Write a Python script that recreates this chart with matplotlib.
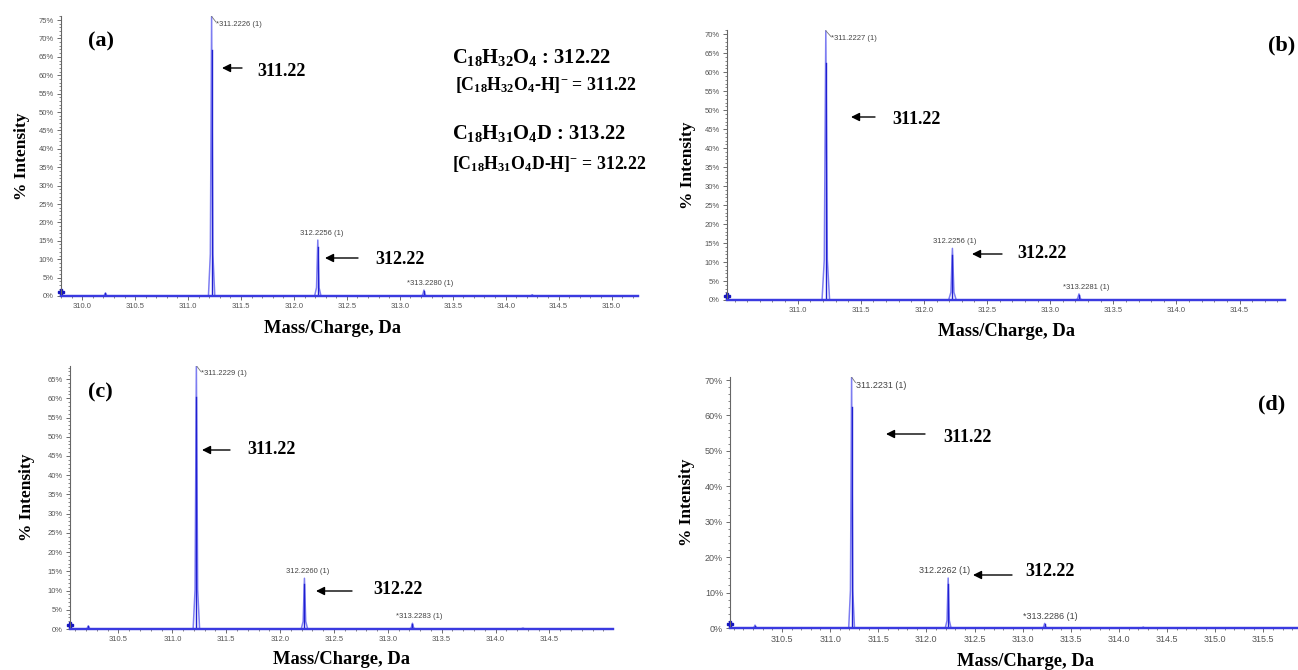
import matplotlib
matplotlib.use("Agg")
import matplotlib.pyplot as plt
from matplotlib.ticker import MultipleLocator, FixedLocator, FuncFormatter

plt.rcParams['mathtext.fontset'] = 'custom'
plt.rcParams['mathtext.rm'] = 'Liberation Serif:bold'
plt.rcParams['mathtext.bf'] = 'Liberation Serif:bold'
plt.rcParams['mathtext.it'] = 'Liberation Serif:bold'

# ---------------- data ----------------
panel_names = ['(a)', '(b)', '(c)', '(d)']

a_mz = [310.22, 311.2226, 312.2256, 313.2280, 314.25]
a_int = [0.8, 76.0, 15.2, 1.6, 0.3]
b_mz = [311.2227, 312.2256, 313.2281]
b_int = [70.9, 13.6, 1.6]
c_mz = [310.22, 311.2229, 312.2260, 313.2283, 314.25]
c_int = [0.8, 68.5, 13.2, 1.5, 0.2]
d_mz = [310.22, 311.2231, 312.2262, 313.2286, 314.25]
d_int = [0.8, 70.8, 14.1, 1.3, 0.2]

a_labels = ['*311.2226 (1)', '312.2256 (1)', '*313.2280 (1)']
b_labels = ['*311.2227 (1)', '312.2256 (1)', '*313.2281 (1)']
c_labels = ['*311.2229 (1)', '312.2260 (1)', '*313.2283 (1)']
d_labels = ['311.2231 (1)', '312.2262 (1)', '*313.2286 (1)']

a_xticks = [310.0, 310.5, 311.0, 311.5, 312.0, 312.5, 313.0, 313.5, 314.0, 314.5, 315.0]
b_xticks = [311.0, 311.5, 312.0, 312.5, 313.0, 313.5, 314.0, 314.5]
c_xticks = [310.5, 311.0, 311.5, 312.0, 312.5, 313.0, 313.5, 314.0, 314.5]
d_xticks = [310.5, 311.0, 311.5, 312.0, 312.5, 313.0, 313.5, 314.0, 314.5, 315.0, 315.5]

a_yticks = [0, 5, 10, 15, 20, 25, 30, 35, 40, 45, 50, 55, 60, 65, 70, 75]
b_yticks = [0, 5, 10, 15, 20, 25, 30, 35, 40, 45, 50, 55, 60, 65, 70]
c_yticks = [0, 5, 10, 15, 20, 25, 30, 35, 40, 45, 50, 55, 60, 65]
d_yticks = [0, 10, 20, 30, 40, 50, 60, 70]

ion_labels = ['311.22', '312.22']
# --------------------------------------

W, H = 1298, 670
fig = plt.figure(figsize=(W / 100, H / 100), dpi=100)


def fx(px):
    return px / W


def fy(py):
    return 1 - py / H


def make_axes(l, t, r, b):
    return fig.add_axes([fx(l), fy(b), (r - l) / W, (b - t) / H])


SERIF = 'Liberation Serif'
BLUE = '#3a3ae0'
TICKC = '#555555'

boxes = [(61, 16, 638, 296), (727, 30, 1285, 300), (70, 366, 613, 629), (730, 377, 1298, 628)]
xlims = [(309.8, 315.25), (310.44, 314.86), (310.05, 315.09), (309.96, 315.86)]
ylims = [76.1, 71.1, 68.4, 70.85]
yminor = [1, 1, 1, 2]
mzs = [a_mz, b_mz, c_mz, d_mz]
ints = [a_int, b_int, c_int, d_int]
labs = [a_labels, b_labels, c_labels, d_labels]
xts = [a_xticks, b_xticks, c_xticks, d_xticks]
yts = [a_yticks, b_yticks, c_yticks, d_yticks]
lab_fs = [5.5, 5.5, 5.5, 6.5]
tick_fs = [5.5, 5.5, 5.5, 6.5]
mid_off = [0.04, 0.02, 0.03, -0.04]
xlabel_x = [0.47, 0.5, 0.5, 0.52]
xlabel_y = [-0.086, -0.085, -0.084, -0.098]
ylabel_pad = [6, 6, 9, 7]

axes = []
for i in range(4):
    ax = make_axes(*boxes[i])
    axes.append(ax)
    ax.set_xlim(*xlims[i])
    ax.set_ylim(0, ylims[i])
    for s in ['top', 'right']:
        ax.spines[s].set_visible(False)
    ax.spines['left'].set_color('#666666')
    ax.spines['left'].set_linewidth(0.8)
    ax.spines['bottom'].set_color(BLUE)
    ax.spines['bottom'].set_linewidth(1.6)
    ax.xaxis.set_major_locator(FixedLocator(xts[i]))
    ax.xaxis.set_minor_locator(MultipleLocator(0.1))
    ax.xaxis.set_major_formatter(FuncFormatter(lambda v, p: f'{v:.1f}'))
    ax.yaxis.set_major_locator(FixedLocator(yts[i]))
    ax.yaxis.set_minor_locator(MultipleLocator(yminor[i]))
    ax.yaxis.set_major_formatter(FuncFormatter(lambda v, p: f'{v:.0f}%'))
    ax.tick_params(axis='both', which='major', labelsize=tick_fs[i], colors=TICKC,
                   length=3, width=0.6, pad=2)
    ax.tick_params(axis='both', which='minor', colors=TICKC, length=1.5, width=0.5)
    for t in ax.get_xticklabels() + ax.get_yticklabels():
        t.set_fontfamily('Liberation Sans')
    # spectrum peaks
    for c, h in zip(mzs[i], ints[i]):
        ax.plot([c - 0.03, c - 0.012, c, c + 0.012, c + 0.03],
                [0, h * 0.15, h, h * 0.15, 0], color='#6f6ff0', lw=1.1, alpha=0.9)
        ax.plot([c, c], [0, h * 0.88], color='#1f1fd0', lw=1.0)
    ax.axhline(0, color=BLUE, lw=1.6, clip_on=False)
    ax.plot([xlims[i][0]], [1.0], marker='P', color='#1515c0', ms=5, clip_on=False)
    # peak labels
    k0 = 1 if len(mzs[i]) == 5 else 0
    pk = list(zip(mzs[i][k0:k0 + 3], ints[i][k0:k0 + 3]))
    ax.plot([pk[0][0], pk[0][0] + 0.04], [pk[0][1], pk[0][1] - 1.5], color='#777777', lw=0.6)
    ax.text(pk[0][0] + 0.045, pk[0][1] - 1.2, labs[i][0], fontsize=lab_fs[i], color='#444444',
            ha='left', va='top', family='Liberation Sans')
    ax.text(pk[1][0] + mid_off[i], pk[1][1] + 0.8, labs[i][1], fontsize=lab_fs[i], color='#444444',
            ha='center', va='bottom', family='Liberation Sans')
    ax.text(pk[2][0] + 0.06, pk[2][1] + 0.8, labs[i][2], fontsize=lab_fs[i], color='#444444',
            ha='center', va='bottom', family='Liberation Sans')
    ax.set_xlabel('Mass/Charge, Da', fontfamily=SERIF, fontweight='bold', fontsize=13.3)
    ax.xaxis.set_label_coords(xlabel_x[i], xlabel_y[i])
    ax.set_ylabel('% Intensity', fontfamily=SERIF, fontweight='bold', fontsize=12.5,
                  labelpad=ylabel_pad[i])

# panel letters
fig.text(fx(88), fy(41), panel_names[0], fontfamily=SERIF, fontweight='bold', fontsize=16,
         ha='left', va='center')
fig.text(fx(1268), fy(45), panel_names[1], fontfamily=SERIF, fontweight='bold', fontsize=16,
         ha='left', va='center')
fig.text(fx(88), fy(392), panel_names[2], fontfamily=SERIF, fontweight='bold', fontsize=16,
         ha='left', va='center')
fig.text(fx(1258), fy(404), panel_names[3], fontfamily=SERIF, fontweight='bold', fontsize=16,
         ha='left', va='center')

# arrows + ion labels (head_x, tail_x, y, text_x, text_y, label)
arrows = [
    (222, 242, 68, 257, 71, ion_labels[0]),
    (325, 358, 258, 375, 260, ion_labels[1]),
    (851, 875, 117, 892, 119, ion_labels[0]),
    (972, 1002, 254, 1017, 254, ion_labels[1]),
    (202, 230, 450, 247, 450, ion_labels[0]),
    (316, 352, 591, 373, 590, ion_labels[1]),
    (886, 925, 434, 943, 438, ion_labels[0]),
    (973, 1012, 575, 1025, 572, ion_labels[1]),
]
for hx, tx, y, lx, ly, s in arrows:
    fig.add_artist(matplotlib.patches.FancyArrowPatch(
        (fx(tx), fy(y)), (fx(hx), fy(y)), transform=fig.transFigure,
        arrowstyle='-|>,head_length=5,head_width=2.5', color='black', lw=1.0,
        shrinkA=0, shrinkB=0))
    fig.text(fx(lx), fy(ly), s, fontfamily=SERIF, fontweight='bold', fontsize=13,
             ha='left', va='center')

# formula block in panel (a)
fig.text(fx(452), fy(57), r'$\mathbf{C_{18}H_{32}O_{4}}$ : 312.22', fontfamily=SERIF,
         fontweight='bold', fontsize=14.8, ha='left', va='center')
fig.text(fx(455), fy(85), r'[$\mathbf{C_{18}H_{32}O_{4}}$-H]$^{\mathbf{-}}$ = 311.22', fontfamily=SERIF,
         fontweight='bold', fontsize=12.8, ha='left', va='center')
fig.text(fx(452), fy(133), r'$\mathbf{C_{18}H_{31}O_{4}}$D : 313.22', fontfamily=SERIF,
         fontweight='bold', fontsize=14.8, ha='left', va='center')
fig.text(fx(452), fy(164), r'[$\mathbf{C_{18}H_{31}O_{4}}$D-H]$^{\mathbf{-}}$ = 312.22', fontfamily=SERIF,
         fontweight='bold', fontsize=12.8, ha='left', va='center')

fig.savefig('out.png', dpi=100)
